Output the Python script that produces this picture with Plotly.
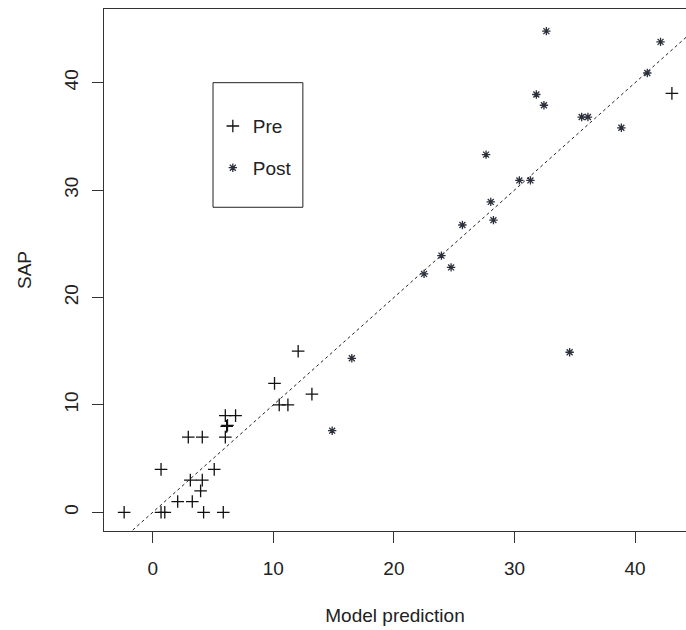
import plotly.graph_objects as go

# Pre (plus markers)
pre_x = [-2.37, 0.69, 1.0, 0.69, 2.07, 3.28, 3.12, 4.11, 3.97, 4.22, 5.85, 5.1,
         2.95, 4.11, 6.02, 6.13, 6.2, 6.02, 6.87, 12.06, 10.1, 13.2, 10.49, 11.21, 43.05]
pre_y = [0, 0, 0, 4, 1, 1, 3, 3, 2, 0, 0, 4,
         7, 7, 7, 8, 8.1, 9, 9, 15, 12, 11, 10, 10, 39]

# Post (asterisk markers)
post_x = [14.88, 16.51, 22.5, 24.74, 23.94, 25.68, 28.25, 28.03, 30.4, 31.32,
          27.64, 34.57, 35.57, 36.09, 38.86, 32.44, 31.81, 41.01, 42.11, 32.64]
post_y = [7.6, 14.34, 22.2, 22.8, 23.9, 26.75, 27.2, 28.9, 30.9, 30.9,
          33.3, 14.9, 36.8, 36.8, 35.8, 37.9, 38.9, 40.9, 43.8, 44.8]

# identity reference line
ref_x = [-5, 50]
ref_y = [-5, 50]

x_ticks = [0, 10, 20, 30, 40]
y_ticks = [0, 10, 20, 30, 40]

FONT = "Liberation Sans, Arial, sans-serif"
TXT = "#222222"

fig = go.Figure()
fig.add_trace(go.Scatter(x=ref_x, y=ref_y, mode="lines", showlegend=False,
                         line=dict(color="#222222", width=1, dash="dot"),
                         hoverinfo="skip"))
fig.add_trace(go.Scatter(x=pre_x, y=pre_y, mode="markers", name="Pre",
                         legendgroup="a",
                         marker=dict(symbol="cross-thin-open", size=9,
                                     color="#111111",
                                     line=dict(color="#111111", width=1.3))))
fig.add_trace(go.Scatter(x=post_x, y=post_y, mode="markers", name="Post",
                         legendgroup="b",
                         marker=dict(symbol="asterisk-open", size=7,
                                     color="#2a2f3a",
                                     line=dict(color="#2a2f3a", width=1.3))))

# legend frame (R-style box)
fig.add_shape(type="rect", x0=5, x1=12.45, y0=28.4, y1=40, xref="x", yref="y",
              line=dict(color="#222222", width=1), fillcolor="rgba(0,0,0,0)")

fig.update_layout(
    width=686, height=630,
    margin=dict(l=104, r=0, t=9, b=99),
    paper_bgcolor="white", plot_bgcolor="white",
    font=dict(family=FONT, size=19, color=TXT),
    showlegend=True,
    legend=dict(x=0.187, y=0.812, xanchor="left", yanchor="top",
                bgcolor="rgba(0,0,0,0)", borderwidth=0,
                font=dict(size=19, color=TXT), tracegroupgap=14),
    xaxis=dict(range=[-4.04, 44.22], tickvals=x_ticks, ticks="outside",
               ticklen=11, tickwidth=1, tickcolor="#333333",
               ticklabelstandoff=9,
               showline=True, linecolor="#333333", linewidth=1, mirror=True,
               showgrid=False, zeroline=False,
               tickfont=dict(size=19, color=TXT, family=FONT),
               title=dict(text="Model prediction", standoff=30,
                          font=dict(size=19, color=TXT, family=FONT))),
    yaxis=dict(range=[-1.74, 46.86], tickvals=y_ticks, ticks="outside",
               ticklen=11, tickwidth=1, tickcolor="#333333", tickangle=-90,
               ticklabelstandoff=6,
               showline=True, linecolor="#333333", linewidth=1, mirror=False,
               showgrid=False, zeroline=False,
               tickfont=dict(size=19, color=TXT, family=FONT),
               title=dict(text="SAP", standoff=24,
                          font=dict(size=19, color=TXT, family=FONT))),
)

fig.write_html("out.html")
